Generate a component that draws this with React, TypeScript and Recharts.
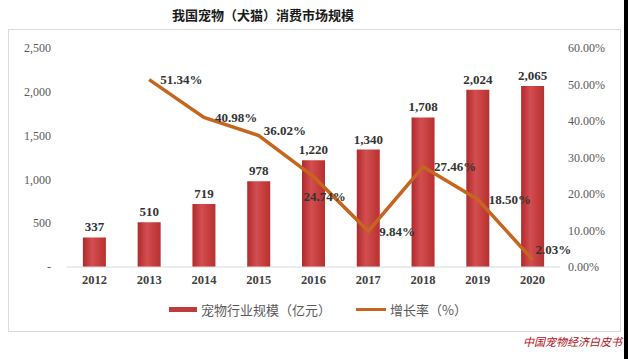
import React from 'react';
import {
  ComposedChart,
  Bar,
  Line,
  XAxis,
  YAxis,
  Legend,
  LabelList,
} from 'recharts';

const YEARS = ['2012', '2013', '2014', '2015', '2016', '2017', '2018', '2019', '2020'];
const MARKET_SIZE = [337, 510, 719, 978, 1220, 1340, 1708, 2024, 2065];
const GROWTH_RATE: (number | null)[] = [null, 51.34, 40.98, 36.02, 24.74, 9.84, 27.46, 18.5, 2.03];
const LEFT_TICKS = [0, 500, 1000, 1500, 2000, 2500];
const RIGHT_TICKS = [0, 10, 20, 30, 40, 50, 60];

const data = YEARS.map((year, i) => ({
  year,
  size: MARKET_SIZE[i],
  growth: GROWTH_RATE[i],
}));

const SERIF = '"Liberation Serif", "Times New Roman", serif';
const CJK = '"Noto Sans CJK SC", sans-serif';
const BAR_LABEL = '宠物行业规模（亿元）';
const LINE_LABEL = '增长率（%）';

// nudge for the % labels so they sit like in the original
const PCT_NUDGE: Record<number, [number, number]> = {
  3: [5, -5],
  4: [-10, 20],
  8: [3, -10],
};

function PctLabel(props: any) {
  const { x, y, value, index } = props;
  if (value == null) return null;
  const [dx, dy] = PCT_NUDGE[index] ?? [11, 0];
  return (
    <text
      x={x + dx}
      y={y + dy}
      dy="0.35em"
      fill="#333"
      fontSize={13}
      fontWeight="bold"
      fontFamily={SERIF}
    >
      {`${Number(value).toFixed(2)}%`}
    </text>
  );
}

function LegendBox() {
  return (
    <div style={{ display: 'flex', alignItems: 'center', fontFamily: CJK, fontSize: 13, color: '#595959' }}>
      <span style={{ marginLeft: 160, width: 28, height: 5, background: '#c0393b', display: 'inline-block' }} />
      <span style={{ marginLeft: 4 }}>{BAR_LABEL}</span>
      <span style={{ marginLeft: 25, width: 30, height: 3, background: '#c5651e', display: 'inline-block' }} />
      <span style={{ marginLeft: 4 }}>{LINE_LABEL}</span>
    </div>
  );
}

export default function App() {
  return (
    <div style={{ position: 'absolute', left: 0, top: 0, width: 628, height: 359, background: '#fff', overflow: 'hidden' }}>
      <div
        style={{
          position: 'absolute', left: 172, top: 5, fontFamily: CJK, fontSize: 13,
          fontWeight: 'bold', color: '#1a1a1a', whiteSpace: 'nowrap',
        }}
      >
        我国宠物（犬猫）消费市场规模
      </div>
      <div
        style={{
          position: 'absolute', left: 8, top: 29, width: 611, height: 301,
          border: '1px solid #d9d9d9',
        }}
      >
        <ComposedChart
          width={611}
          height={301}
          data={data}
          margin={{ top: 18, right: 10, left: 8, bottom: 20 }}
          barCategoryGap="29%"
        >
          <defs>
            <linearGradient id="barFill" x1="0" y1="0" x2="1" y2="0">
              <stop offset="0%" stopColor="#b02a2d" />
              <stop offset="40%" stopColor="#d34e50" />
              <stop offset="100%" stopColor="#b8302f" />
            </linearGradient>
          </defs>
          <XAxis
            dataKey="year"
            axisLine={{ stroke: '#d9d9d9' }}
            tickLine={false}
            height={24}
            tick={{ fill: '#404040', fontSize: 12.5, fontWeight: 'bold', fontFamily: SERIF }}
          />
          <YAxis
            yAxisId="left"
            domain={[0, 2500]}
            ticks={LEFT_TICKS}
            width={50}
            axisLine={false}
            tickLine={false}
            tickMargin={10}
            tickFormatter={(v: number) => (v === 0 ? '-' : v.toLocaleString('en-US'))}
            tick={{ fill: '#595959', fontSize: 12, fontFamily: SERIF }}
          />
          <YAxis
            yAxisId="right"
            orientation="right"
            domain={[0, 60]}
            ticks={RIGHT_TICKS}
            width={50}
            axisLine={false}
            tickLine={false}
            tickFormatter={(v: number) => `${v.toFixed(2)}%`}
            tick={{ fill: '#595959', fontSize: 12, fontFamily: SERIF }}
          />
          <Legend
            verticalAlign="bottom"
            content={() => <LegendBox />}
            wrapperStyle={{ top: 270, bottom: 'auto', left: 0, height: 20 }}
          />
          <Bar yAxisId="left" dataKey="size" name={BAR_LABEL} fill="url(#barFill)" isAnimationActive={false}>
            <LabelList
              dataKey="size"
              position="top"
              offset={6}
              formatter={(v: any) => Number(v).toLocaleString('en-US')}
              style={{ fill: '#333', fontSize: 13, fontWeight: 'bold', fontFamily: SERIF }}
            />
          </Bar>
          <Line
            yAxisId="right"
            dataKey="growth"
            name={LINE_LABEL}
            stroke="#c5651e"
            strokeWidth={3.5}
            dot={false}
            activeDot={false}
            isAnimationActive={false}
          >
            <LabelList dataKey="growth" content={<PctLabel />} />
          </Line>
        </ComposedChart>
      </div>
      <div
        style={{
          position: 'absolute', left: 523, top: 333, fontFamily: CJK, fontSize: 11,
          fontStyle: 'italic', color: '#b0121b', whiteSpace: 'nowrap',
        }}
      >
        中国宠物经济白皮书
      </div>
      <div style={{ position: 'absolute', right: 0, top: 0, width: 4, height: 359, background: '#000' }} />
    </div>
  );
}
